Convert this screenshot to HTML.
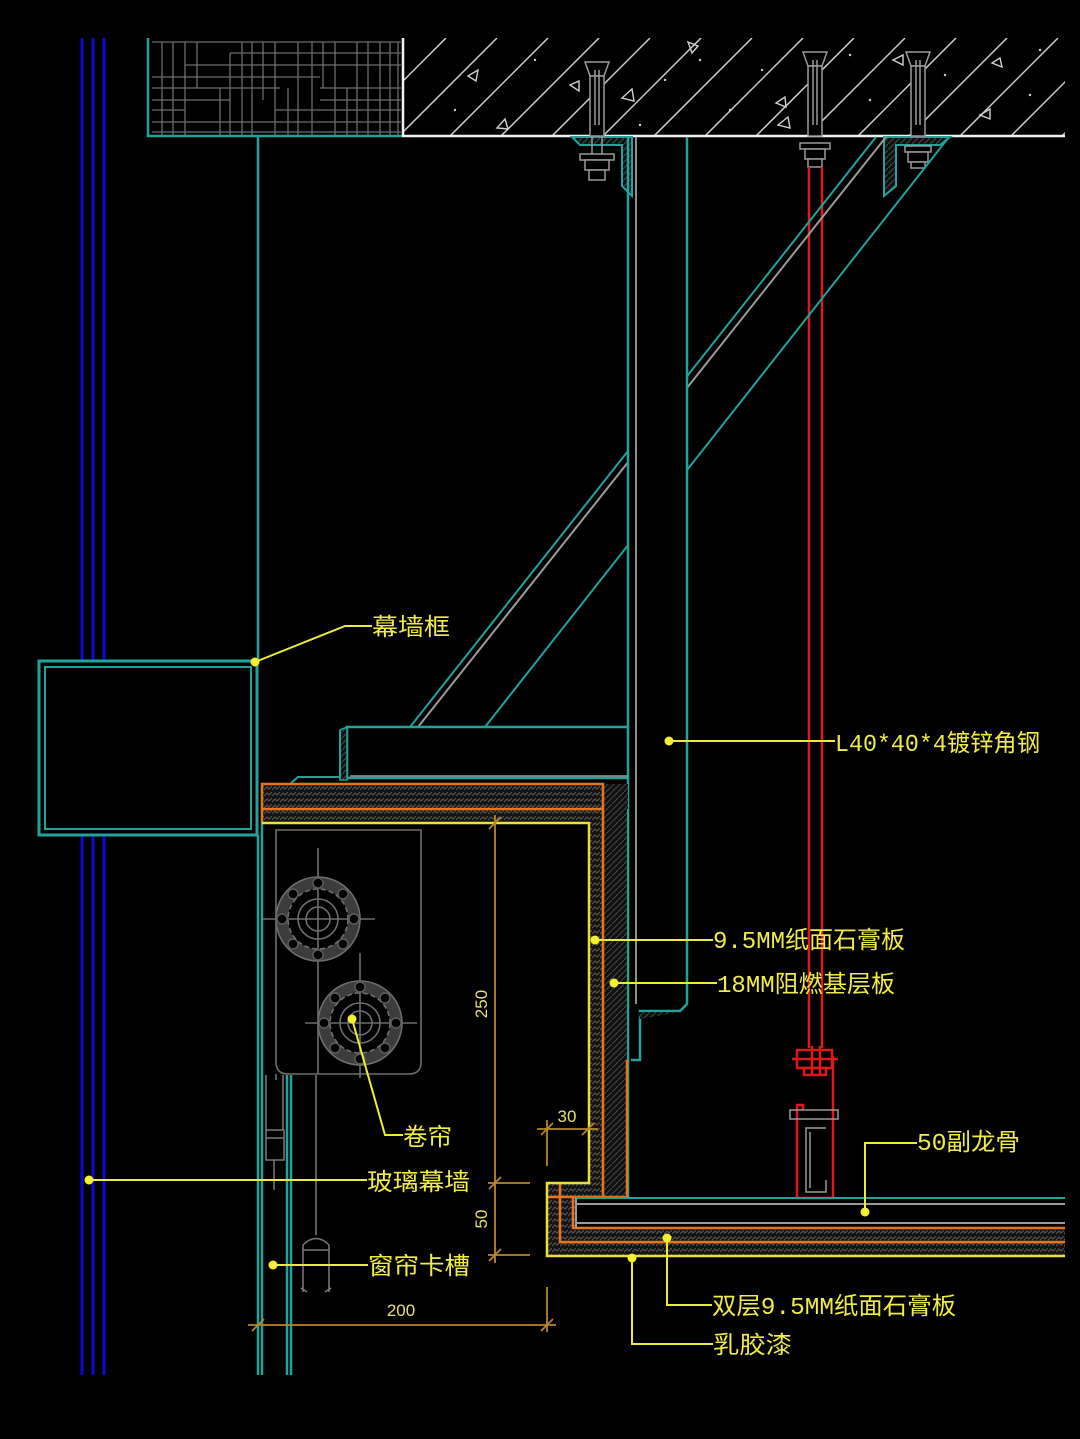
<!DOCTYPE html>
<html><head><meta charset="utf-8"><style>
html,body{margin:0;padding:0;background:#000;}
svg{display:block;}
.t{font-family:"Liberation Mono","Noto Sans CJK SC",monospace;font-size:24px;fill:#f0ec48;}
.d{font-family:"Liberation Sans",sans-serif;font-size:17px;fill:#e6e07a;}
</style></head><body>
<svg width="1080" height="1439" viewBox="0 0 1080 1439" xmlns="http://www.w3.org/2000/svg">
<defs>
<pattern id="h" width="8" height="6" patternUnits="userSpaceOnUse">
<rect width="8" height="6" fill="#141414"/>
<path d="M0 4 L3 1 L5 3 L8 0" stroke="#5a5a5a" stroke-width="1" fill="none"/>
</pattern>
<pattern id="h2" width="6" height="6" patternUnits="userSpaceOnUse">
<rect width="6" height="6" fill="#101010"/>
<path d="M0 6 L6 0" stroke="#4a4a4a" stroke-width="1"/>
</pattern>
<clipPath id="slab"><rect x="403" y="38" width="662" height="97"/></clipPath>
<clipPath id="blk"><rect x="150" y="38" width="251" height="97"/></clipPath>
</defs>
<rect width="1080" height="1439" fill="#000"/>

<!-- blue glass lines -->
<g stroke="#0a0ad0" stroke-width="3">
<line x1="82" y1="38" x2="82" y2="660"/><line x1="93" y1="38" x2="93" y2="660"/><line x1="104" y1="38" x2="104" y2="660"/>
<line x1="82" y1="836" x2="82" y2="1375"/><line x1="93" y1="836" x2="93" y2="1375"/><line x1="104" y1="836" x2="104" y2="1375"/>
</g>

<!-- top-left grid block -->
<g clip-path="url(#blk)" stroke="#6c6c6c" stroke-width="1.3">
<line x1="152" y1="42" x2="401" y2="42"/><line x1="230" y1="53" x2="401" y2="53"/>
<line x1="185" y1="65" x2="401" y2="65"/><line x1="152" y1="77" x2="320" y2="77"/>
<line x1="152" y1="88" x2="280" y2="88"/><line x1="320" y1="88" x2="401" y2="88"/>
<line x1="152" y1="100" x2="230" y2="100"/><line x1="320" y1="100" x2="401" y2="100"/>
<line x1="152" y1="110" x2="185" y2="110"/><line x1="275" y1="110" x2="401" y2="110"/>
<line x1="152" y1="122" x2="401" y2="122"/><line x1="152" y1="132" x2="401" y2="132"/>
<line x1="162" y1="42" x2="162" y2="135"/><line x1="173" y1="42" x2="173" y2="135"/>
<line x1="185" y1="42" x2="185" y2="135"/><line x1="197" y1="42" x2="197" y2="88"/>
<line x1="220" y1="88" x2="220" y2="135"/><line x1="230" y1="53" x2="230" y2="135"/>
<line x1="242" y1="42" x2="242" y2="135"/><line x1="252" y1="42" x2="252" y2="135"/>
<line x1="263" y1="42" x2="263" y2="100"/><line x1="275" y1="42" x2="275" y2="135"/>
<line x1="288" y1="88" x2="288" y2="135"/><line x1="298" y1="42" x2="298" y2="135"/>
<line x1="312" y1="42" x2="312" y2="135"/><line x1="323" y1="42" x2="323" y2="88"/>
<line x1="335" y1="42" x2="335" y2="135"/><line x1="347" y1="88" x2="347" y2="135"/>
<line x1="357" y1="42" x2="357" y2="135"/><line x1="368" y1="42" x2="368" y2="135"/>
<line x1="380" y1="42" x2="380" y2="135"/><line x1="390" y1="42" x2="390" y2="135"/>
<line x1="398" y1="42" x2="398" y2="135"/>
</g>
<polyline points="148,38 148,136 402,136" fill="none" stroke="#1fa39b" stroke-width="2.5"/>

<!-- concrete slab -->
<g clip-path="url(#slab)" stroke="#cfcfcf" stroke-width="1.5">
<line x1="297" y1="136" x2="395" y2="38"/><line x1="348" y1="136" x2="446" y2="38"/>
<line x1="399" y1="136" x2="497" y2="38"/><line x1="450" y1="136" x2="548" y2="38"/>
<line x1="501" y1="136" x2="599" y2="38"/><line x1="552" y1="136" x2="650" y2="38"/>
<line x1="603" y1="136" x2="701" y2="38"/><line x1="654" y1="136" x2="752" y2="38"/>
<line x1="705" y1="136" x2="803" y2="38"/><line x1="756" y1="136" x2="854" y2="38"/>
<line x1="807" y1="136" x2="905" y2="38"/><line x1="858" y1="136" x2="956" y2="38"/>
<line x1="909" y1="136" x2="1007" y2="38"/><line x1="960" y1="136" x2="1058" y2="38"/>
<line x1="1011" y1="136" x2="1109" y2="38"/><line x1="1062" y1="136" x2="1160" y2="38"/>
</g>
<g fill="none" stroke="#d0d0d0" stroke-width="1.4">
<path d="M468 76 l10 -6 l-2 11 z"/><path d="M497 128 l8 -9 l3 10 z"/><path d="M570 85 l9 -4 l0 10 z"/>
<path d="M622 98 l10 -9 l2 12 z"/><path d="M688 42 l10 4 l-6 7 z"/><path d="M776 103 l9 -6 l1 10 z"/>
<path d="M778 125 l10 -8 l2 11 z"/><path d="M893 60 l10 -5 l0 10 z"/><path d="M992 63 l8 -5 l2 9 z"/>
<path d="M980 115 l10 -6 l0 10 z"/>
</g>
<g fill="#cfcfcf">
<circle cx="535" cy="60" r="1.2"/><circle cx="455" cy="110" r="1.2"/><circle cx="665" cy="80" r="1.2"/>
<circle cx="730" cy="110" r="1.2"/><circle cx="700" cy="60" r="1.2"/><circle cx="850" cy="55" r="1.2"/>
<circle cx="870" cy="100" r="1.2"/><circle cx="945" cy="75" r="1.2"/><circle cx="1030" cy="95" r="1.2"/>
<circle cx="1040" cy="50" r="1.2"/><circle cx="762" cy="70" r="1.2"/><circle cx="640" cy="125" r="1.2"/>
</g>
<polyline points="403,38 403,136 1065,136" fill="none" stroke="#f2f2f2" stroke-width="2.5"/>

<!-- brackets -->
<path d="M572 137 L632 137 L632 196 L622 186 L622 145 L580 145 Z" fill="url(#h2)" stroke="#1fa39b" stroke-width="2"/>
<path d="M884 137 L950 137 L940 145 L896 145 L896 186 L884 196 Z" fill="url(#h2)" stroke="#1fa39b" stroke-width="2"/>

<!-- bolts -->
<g fill="#000" stroke="#9a9a9a" stroke-width="1.5">
<path d="M585 62 L609 62 L604 76 L590 76 Z"/><rect x="590" y="76" width="14" height="60"/>
<line x1="595" y1="70" x2="595" y2="125"/><line x1="599" y1="70" x2="599" y2="125"/>
<rect x="580" y="154" width="34" height="6"/><rect x="585" y="160" width="24" height="10"/><rect x="589" y="170" width="16" height="10"/>
<line x1="592" y1="137" x2="592" y2="154"/><line x1="602" y1="137" x2="602" y2="154"/>

<path d="M803 52 L827 52 L822 66 L808 66 Z"/><rect x="808" y="66" width="14" height="70"/>
<line x1="813" y1="60" x2="813" y2="125"/><line x1="817" y1="60" x2="817" y2="125"/>
<rect x="800" y="143" width="30" height="6"/><rect x="805" y="149" width="20" height="10"/><rect x="808" y="159" width="14" height="8"/>

<path d="M906 52 L930 52 L925 66 L911 66 Z"/><rect x="911" y="66" width="14" height="70"/>
<line x1="916" y1="60" x2="916" y2="125"/><line x1="920" y1="60" x2="920" y2="125"/>
<rect x="905" y="146" width="26" height="6"/><rect x="908" y="152" width="20" height="10"/><rect x="911" y="162" width="14" height="6"/>
</g>

<!-- red hanger rod -->
<g stroke="#e01818" stroke-width="2.5" fill="none">
<line x1="809" y1="167" x2="809" y2="1048"/><line x1="822" y1="167" x2="822" y2="1048"/>
<path d="M797 1050 L832 1050 L832 1068 L797 1068 Z"/>
<line x1="792" y1="1059" x2="838" y2="1059"/>
<line x1="812" y1="1046" x2="812" y2="1074"/><line x1="820" y1="1046" x2="820" y2="1074"/>
<rect x="804" y="1068" width="22" height="7"/>
<polyline points="833,1056 833,1198 797,1198 797,1105 803,1105 803,1110"/>
</g>
<g stroke="#9a9a9a" stroke-width="1.5" fill="none">
<rect x="790" y="1110" width="48" height="9"/>
<polyline points="826,1128 806,1128 806,1192 826,1192 826,1180"/>
<polyline points="810,1132 810,1188"/>
</g>

<!-- diagonal braces -->
<g stroke="#1fa39b" stroke-width="2">
<line x1="876" y1="137" x2="410" y2="727"/>
<line x1="949" y1="137" x2="485" y2="727"/>
</g>
<line x1="886" y1="137" x2="418" y2="727" stroke="#9c9c9c" stroke-width="2"/>

<!-- vertical angle steel: hide braces where they cross it -->
<rect x="629" y="370" width="57" height="180" fill="#000"/>
<line x1="628" y1="137" x2="628" y2="1198" stroke="#1fa39b" stroke-width="2.5"/>
<line x1="636" y1="137" x2="636" y2="1004" stroke="#a0a0a0" stroke-width="1.8"/>
<polyline points="687,137 687,1004 680,1011 640,1011 640,1060 631,1060" fill="none" stroke="#1fa39b" stroke-width="2.5"/>
<path d="M638 1012 L680 1012 L640 1019 Z" fill="url(#h2)"/>

<!-- platform -->
<polyline points="628,727 347,727 347,778 628,778" fill="none" stroke="#1fa39b" stroke-width="2.5"/>
<line x1="350" y1="776" x2="628" y2="776" stroke="#a0a0a0" stroke-width="1.5"/>
<path d="M340 730 L347 727 L347 780 L340 780 Z" fill="url(#h2)" stroke="#1fa39b" stroke-width="1.5"/>
<polyline points="290,784 298,777 340,777 340,730" fill="none" stroke="#1fa39b" stroke-width="2"/>

<!-- curtain wall frame box -->
<rect x="39" y="661" width="218" height="174" fill="#000" stroke="#1fa39b" stroke-width="3"/>
<rect x="45" y="667" width="206" height="162" fill="none" stroke="#1fa39b" stroke-width="2"/>
<line x1="258" y1="136" x2="258" y2="661" stroke="#1fa39b" stroke-width="2.5"/>

<!-- lower glass lines -->
<g stroke="#1fa39b" stroke-width="2.5">
<line x1="258" y1="835" x2="258" y2="1375"/><line x1="262" y1="823" x2="262" y2="1375"/>
<line x1="287" y1="1075" x2="287" y2="1375"/><line x1="291" y1="1075" x2="291" y2="1375"/>
</g>
<g stroke="#7a7a7a" stroke-width="1.5" fill="none">
<line x1="266" y1="1075" x2="266" y2="1130"/><line x1="283" y1="1075" x2="283" y2="1130"/>
<path d="M266 1130 L284 1130 L284 1160 L266 1160 Z"/><line x1="266" y1="1138" x2="284" y2="1138"/>
<line x1="274" y1="1160" x2="274" y2="1190"/>
<line x1="316" y1="1075" x2="316" y2="1235"/>
<path d="M303 1292 L303 1245 Q316 1232 329 1245 L329 1292"/><line x1="303" y1="1250" x2="329" y2="1250"/>
<line x1="301" y1="1288" x2="307" y2="1292"/><line x1="331" y1="1288" x2="325" y2="1292"/>
</g>

<!-- roller box -->
<g stroke="#6e6e6e" stroke-width="1.6" fill="none">
<path d="M276 830 L421 830 L421 1062 Q421 1074 409 1074 L288 1074 Q276 1074 276 1062 Z"/>
<line x1="276" y1="1074" x2="276" y2="1080"/>
<circle cx="318" cy="919" r="36" stroke="#3c3c3c" stroke-width="12"/>
<circle cx="318" cy="919" r="42"/><circle cx="318" cy="919" r="30" stroke-dasharray="5 3"/><circle cx="318" cy="919" r="20"/><circle cx="318" cy="919" r="12"/>
<line x1="263" y1="919" x2="375" y2="919"/><line x1="318" y1="848" x2="318" y2="990"/>
<circle cx="360" cy="1023" r="36" stroke="#3c3c3c" stroke-width="12"/>
<circle cx="360" cy="1023" r="42"/><circle cx="360" cy="1023" r="30" stroke-dasharray="5 3"/><circle cx="360" cy="1023" r="20"/><circle cx="360" cy="1023" r="12"/>
<line x1="305" y1="1023" x2="417" y2="1023"/><line x1="360" y1="953" x2="360" y2="1078"/>
<line x1="318" y1="990" x2="318" y2="1074"/>
</g>
<g fill="#000" stroke="#5e5e5e" stroke-width="1.4">
<circle cx="318" cy="883" r="5"/><circle cx="354" cy="919" r="5"/><circle cx="318" cy="955" r="5"/><circle cx="282" cy="919" r="5"/>
<circle cx="343" cy="894" r="5"/><circle cx="343" cy="944" r="5"/><circle cx="293" cy="944" r="5"/><circle cx="293" cy="894" r="5"/>
<circle cx="360" cy="987" r="5"/><circle cx="396" cy="1023" r="5"/><circle cx="360" cy="1059" r="5"/><circle cx="324" cy="1023" r="5"/>
<circle cx="385" cy="998" r="5"/><circle cx="385" cy="1048" r="5"/><circle cx="335" cy="1048" r="5"/><circle cx="335" cy="998" r="5"/>
</g>

<!-- ceiling layers -->
<rect x="262" y="784" width="366" height="25" fill="url(#h)"/>
<rect x="262" y="809" width="341" height="14" fill="url(#h)"/>
<rect x="589" y="823" width="14" height="374" fill="url(#h)"/>
<rect x="603" y="784" width="24" height="413" fill="url(#h2)"/>
<rect x="547" y="1183" width="56" height="14" fill="url(#h)"/>
<rect x="547" y="1197" width="29" height="59" fill="url(#h)"/>
<rect x="576" y="1228" width="489" height="28" fill="url(#h)"/>
<g fill="none" stroke="#e8741e" stroke-width="2.5">
<polyline points="262,823 262,784 603,784 603,1197"/>
<line x1="262" y1="809" x2="603" y2="809"/>
<line x1="627" y1="1060" x2="627" y2="1197"/>
<polyline points="560,1183 560,1242 1065,1242"/>
<polyline points="573,1197 573,1228 1065,1228"/>
<line x1="547" y1="1197" x2="627" y2="1197"/>
</g>
<polyline points="262,823 589,823 589,1183 547,1183 547,1256 1065,1256" fill="none" stroke="#ecdf3a" stroke-width="2.5"/>
<g stroke-width="2">
<line x1="576" y1="1198" x2="1065" y2="1198" stroke="#1fa39b"/>
<line x1="576" y1="1204" x2="1065" y2="1204" stroke="#9a9a9a"/>
<line x1="576" y1="1223" x2="1065" y2="1223" stroke="#9a9a9a"/>
<line x1="576" y1="1198" x2="576" y2="1228" stroke="#9a9a9a"/>
</g>

<!-- dimensions -->
<g stroke="#b8862a" stroke-width="1.8" fill="none">
<line x1="495" y1="815" x2="495" y2="1263"/>
<line x1="488" y1="1183" x2="530" y2="1183"/><line x1="488" y1="1255" x2="530" y2="1255"/>
<line x1="489" y1="829" x2="501" y2="817"/><line x1="489" y1="1189" x2="501" y2="1177"/><line x1="489" y1="1261" x2="501" y2="1249"/>
<line x1="537" y1="1129" x2="598" y2="1129"/>
<line x1="547" y1="1120" x2="547" y2="1166"/>
<line x1="541" y1="1135" x2="553" y2="1123"/><line x1="582" y1="1135" x2="594" y2="1123"/>
<line x1="248" y1="1325" x2="556" y2="1325"/>
<line x1="547" y1="1287" x2="547" y2="1332"/>
<line x1="252" y1="1331" x2="264" y2="1319"/><line x1="541" y1="1331" x2="553" y2="1319"/>
</g>
<text class="d" x="567" y="1122" text-anchor="middle">30</text>
<text class="d" x="401" y="1316" text-anchor="middle">200</text>
<text class="d" transform="translate(487,1004) rotate(-90)" text-anchor="middle">250</text>
<text class="d" transform="translate(487,1219) rotate(-90)" text-anchor="middle">50</text>

<!-- leaders -->
<g stroke="#ecec3a" stroke-width="2" fill="none">
<polyline points="255,662 345,626 372,626"/>
<line x1="669" y1="741" x2="835" y2="741"/>
<line x1="595" y1="940" x2="713" y2="940"/>
<line x1="614" y1="983" x2="717" y2="983"/>
<polyline points="352,1019 385,1135 403,1135"/>
<line x1="89" y1="1180" x2="367" y2="1180"/>
<line x1="273" y1="1265" x2="368" y2="1265"/>
<polyline points="865,1212 865,1143 917,1143"/>
<polyline points="667,1238 667,1305 712,1305"/>
<polyline points="632,1258 632,1344 713,1344"/>
</g>
<g fill="#f4f030">
<circle cx="255" cy="662" r="4.5"/><circle cx="669" cy="741" r="4.5"/><circle cx="595" cy="940" r="4.5"/>
<circle cx="614" cy="983" r="4.5"/><circle cx="352" cy="1019" r="4.5"/><circle cx="89" cy="1180" r="4.5"/>
<circle cx="273" cy="1265" r="4.5"/><circle cx="865" cy="1212" r="4.5"/><circle cx="667" cy="1238" r="4.5"/>
<circle cx="632" cy="1258" r="4.5"/>
</g>

<!-- labels -->
<text class="t" x="372" y="635" textLength="78" lengthAdjust="spacingAndGlyphs">幕墙框</text>
<text class="t" x="835" y="751" textLength="205" lengthAdjust="spacingAndGlyphs">L40*40*4镀锌角钢</text>
<text class="t" x="713" y="948" textLength="192" lengthAdjust="spacingAndGlyphs">9.5MM纸面石膏板</text>
<text class="t" x="717" y="992" textLength="178" lengthAdjust="spacingAndGlyphs">18MM阻燃基层板</text>
<text class="t" x="403" y="1145" textLength="49" lengthAdjust="spacingAndGlyphs">卷帘</text>
<text class="t" x="367" y="1190" textLength="103" lengthAdjust="spacingAndGlyphs">玻璃幕墙</text>
<text class="t" x="368" y="1274" textLength="102" lengthAdjust="spacingAndGlyphs">窗帘卡槽</text>
<text class="t" x="917" y="1150" textLength="103" lengthAdjust="spacingAndGlyphs">50副龙骨</text>
<text class="t" x="712" y="1314" textLength="244" lengthAdjust="spacingAndGlyphs">双层9.5MM纸面石膏板</text>
<text class="t" x="713" y="1353" textLength="79" lengthAdjust="spacingAndGlyphs">乳胶漆</text>
</svg>
</body></html>
